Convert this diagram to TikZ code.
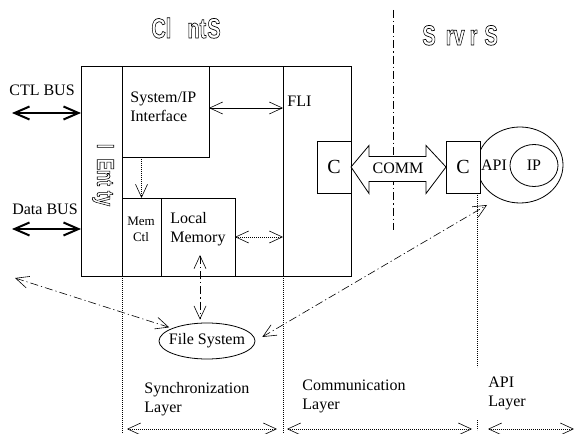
\documentclass[tikz,border=0pt]{standalone}
\usepackage{fontspec}
\setmainfont{Liberation Serif}
\newfontfamily\titlefont{Liberation Sans}
\usetikzlibrary{arrows.meta, positioning, shapes.geometric}

\newcommand{\tallword}[1]{\scalebox{1}[1.4]{\special{pdf:literal direct 1 Tr 0.5 w}#1\special{pdf:literal direct 0 Tr}}}

\begin{document}
\begin{tikzpicture}[x=1bp, y=-1bp, line width=0.8bp,
    font=\fontsize{16bp}{19bp}\selectfont,
    >={Straight Barb[length=13bp, width=12bp]},
    box/.style={draw, inner sep=0pt, outer sep=0pt, anchor=north west},
    txt/.style={inner sep=0pt, align=left},
    bus/.style={<->, line width=2bp, >={Straight Barb[length=15bp, width=13bp]}},
    link/.style={<->, line width=0.6bp},
    dashdot/.style={line width=0.6bp, dash pattern=on 8bp off 3bp on 1.2bp off 3bp},
    dots/.style={line width=0.6bp, dash pattern=on 0.7bp off 1.3bp},
    title/.style={inner sep=0pt, anchor=base west, font=\titlefont\bfseries\fontsize{20bp}{22bp}\selectfont}]
    \useasboundingbox (0,0) rectangle (574,434);

    % titles
    \node[title] (clienttitle) at (151,38) {\tallword{Cl\hspace{16bp}nt\hspace{1bp}S}};
    \node[title] (servertitle) at (422,45) {\tallword{S\hspace{10bp}rv\hspace{5bp}r\hspace{7bp}S}};
    \draw[dashdot] (393,10) coordinate (divtop) -- (393,230) coordinate (divbot);

    % client side
    \node[box, minimum width=270bp, minimum height=210bp] (client) at (81,66) {};
    \node[box, minimum width=41bp, minimum height=210bp] (entity) at (81,66) {};
    \node[box, minimum width=68bp, minimum height=210bp] (fli) at (283,66) {};
    \node[box, minimum width=87bp, minimum height=91bp] (sysif) at (122,66) {};
    \node[box, minimum width=39bp, minimum height=78bp] (memctl) at (122,198) {};
    \node[box, minimum width=74bp, minimum height=78bp] (localmem) at (161,198) {};

    \node[txt, anchor=north west] (sysiftext) at (130,92) {System/IP\\Interface};
    \node[txt, anchor=west] (flitext) at (287,101.5) {FLI};
    \node[txt, align=center, font=\fontsize{13bp}{16bp}\selectfont] (memctltext) at (141,229) {Mem\\Ctl};
    \node[txt, anchor=north west] (localmemtext) at (170,212) {Local\\Memory};
    \node[inner sep=0pt, rotate=-90, font=\titlefont\bfseries\fontsize{17bp}{19bp}\selectfont] (entitytext) at (103,175) {\tallword{I\hspace{10bp}Ent\hspace{5bp}ty}};

    \node[txt, anchor=base] (ctlbus) at (42,96) {CTL BUS};
    \node[txt, anchor=base] (databus) at (45,215) {Data BUS};
    \coordinate (ctlend) at (12,113);
    \coordinate (dataend) at (12,229);
    \draw[bus] (ctlend) -- (client.west |- ctlend);
    \draw[bus] (dataend) -- (client.west |- dataend);

    \draw[link] ([yshift=3.5bp]sysif.east) coordinate (sysport) -- (fli.west |- sysport);
    \draw[dots, ->] (memctl.north |- sysif.south) -- (memctl.north);
    \draw[dots, <->] (localmem.east) -- (fli.west |- localmem.east);

    % server side
    \node[draw, ellipse, minimum width=86bp, minimum height=76bp, inner sep=0pt] (apiouter) at (520,165) {};
    \node[draw, ellipse, minimum width=48bp, minimum height=42bp, inner sep=0pt] (ip) at (534,165.5) {IP};
    \node[txt] (api) at (494,165) {API};
    \node[box, fill=white, minimum width=34bp, minimum height=52bp, font=\fontsize{20bp}{22bp}\selectfont] (cleft) at (317,141) {C};
    \node[box, fill=white, minimum width=34bp, minimum height=52bp, font=\fontsize{20bp}{22bp}\selectfont] (cright) at (446,141) {C};
    \draw[fill=white] (cleft.east) -- ++(18,-21.5) -- ++(0,11) -- ++(57,0) -- ++(0,-11) -- (cright.west)
        -- ++(-20,26.5) -- ++(0,-12) -- ++(-57,0) -- ++(0,12) -- cycle;
    \node[txt] (comm) at (398,168) {COMM};

    % file system
    \node[draw, ellipse, minimum width=96bp, minimum height=36bp, inner sep=0pt] (fs) at (207,341) {\makebox[40bp]{File System}};
    \coordinate (lmport) at (200,255);
    \coordinate (busport) at (15,278);
    \coordinate (apiport) at (487,205);
    \draw[dashdot, <->, shorten >=3bp] (lmport) -- (fs.north -| lmport);
    \draw[dashdot, <->, shorten >=3bp] (busport) -- (fs.160);
    \draw[dashdot, <->, shorten <=8bp] (fs.east) -- (apiport);

    % layers
    \draw[dots] (memctl.south west) -- (122,434);
    \draw[dots] (fli.south west) -- (283,434);
    \draw[dots] (477.5,193) -- (477.5,367);
    \draw[dots] (477.5,420) -- (477.5,430);
    \node[txt, anchor=north west] (synclayer) at (144,382) {Synchronization\\Layer};
    \node[txt, anchor=north west] (commlayer) at (302,380) {Communication\\Layer};
    \node[txt, anchor=north west] (apilayer) at (488,377) {API\\Layer};
    \draw[dots, <->] (127,429) coordinate (syncl) -- (277,429) coordinate (syncr);
    \draw[dots, <->] (287,429) coordinate (comml) -- (472,429) coordinate (commr);
    \draw[dots, <->] (488,429) coordinate (apil) -- (574,429) coordinate (apir);
\end{tikzpicture}
\end{document}
